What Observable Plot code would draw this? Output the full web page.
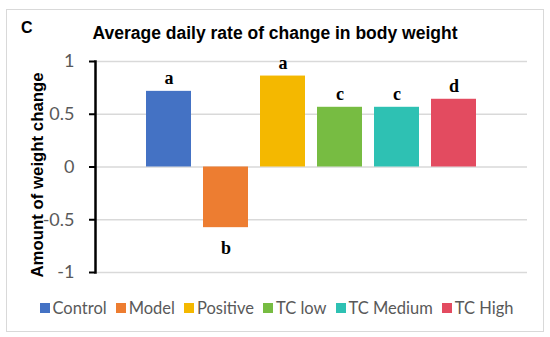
<!DOCTYPE html>
<html>
<head>
<meta charset="utf-8">
<script src="https://cdn.jsdelivr.net/npm/d3@7"></script>
<script src="https://cdn.jsdelivr.net/npm/@observablehq/plot@0.6"></script>
<style>
  html, body { margin: 0; padding: 0; background: #fff; }
  #wrap { position: relative; width: 550px; height: 337px; overflow: hidden; }
  #border { position: absolute; left: 6px; top: 9px; width: 536px; height: 321px; border: 1px solid #d9d9d9; box-sizing: content-box; }
  #panel { position: absolute; left: 21px; top: 19px; font: bold 16px "Liberation Sans", Arial, sans-serif; color: #000; }
  #title { position: absolute; left: 0; width: 550px; top: 23px; text-align: center; font: bold 17.5px "Liberation Sans", Arial, sans-serif; color: #000; }
  #chart { position: absolute; left: 0; top: 0; }
  #legend { position: absolute; left: 6px; width: 550px; top: 298px; display: flex; justify-content: center; }
  .leg-swatches { font-family: Lato, sans-serif !important; font-size: 16.5px !important; color: #595959 !important; min-height: 0 !important; margin: 0 !important; }
  .leg-swatch { margin-right: 9px !important; }
  .leg-swatch > svg, .leg-swatch svg { margin-right: 3px !important; }
</style>
</head>
<body>
<div id="wrap">
  <div id="border"></div>
  <div id="chart"></div>
  <div id="panel">C</div>
  <div id="title">Average daily rate of change in body weight</div>
  <div id="legend"></div>
</div>
<script>
const categories = ["Control", "Model", "Positive", "TC low", "TC Medium", "TC High"];
const values = [0.717, -0.575, 0.862, 0.566, 0.566, 0.642];
const letters = ["a", "b", "a", "c", "c", "d"];
const colors = ["#4472C4", "#ED7D31", "#F4B800", "#77BC42", "#2EC1B3", "#E34B60"];
const yTicks = [-1, -0.5, 0, 0.5, 1];
const yTickLabels = ["-1", "-0.5", "0", "0.5", "1"];
const yLabel = "Amount of weight change";

const data = categories.map((c, i) => ({group: c, value: values[i], letter: letters[i]}));

const chart = Plot.plot({
  width: 550,
  height: 337,
  marginTop: 61,
  marginBottom: 65,
  marginLeft: 95,
  marginRight: 23,
  style: {fontFamily: "Lato, sans-serif", background: "transparent", overflow: "visible"},
  x: {domain: categories, paddingInner: 0.217, paddingOuter: 0.865, axis: null},
  y: {domain: [-1, 1], ticks: yTicks, axis: null},
  color: {domain: categories, range: colors},
  marks: [
    Plot.gridY(yTicks, {stroke: "#d9d9d9", strokeOpacity: 1, strokeWidth: 1.3}),
    Plot.barY(data, {x: "group", y: "value", fill: "group"}),
    Plot.frame({anchor: "left", stroke: "#000", strokeWidth: 2.5}),
    Plot.axisY(yTicks, {
      tickSize: 6, tickPadding: 15, stroke: "#000", strokeWidth: 2,
      fill: "#595959", fontSize: 18, label: null,
      tickFormat: d => yTickLabels[yTicks.indexOf(d)]
    }),
    Plot.text(data.filter(d => d.value >= 0), {
      x: "group", y: "value", text: "letter", dy: -13,
      fontFamily: "Liberation Serif", fontWeight: "bold", fontSize: 18, fill: "#000"
    }),
    Plot.text(data.filter(d => d.value < 0), {
      x: "group", y: "value", text: "letter", dy: 21,
      fontFamily: "Liberation Serif", fontWeight: "bold", fontSize: 18, fill: "#000"
    }),
    Plot.text([yLabel], {
      text: d => d, frameAnchor: "left", textAnchor: "middle", rotate: -90, dx: -58, dy: 8,
      fontFamily: "Liberation Sans", fontWeight: "bold", fontSize: 16.8, fill: "#000"
    })
  ]
});
document.getElementById("chart").append(chart);

const legend = Plot.legend({
  color: {domain: categories, range: colors},
  legend: "swatches",
  swatchSize: 10,
  className: "leg"
});
document.getElementById("legend").append(legend);
</script>
</body>
</html>
